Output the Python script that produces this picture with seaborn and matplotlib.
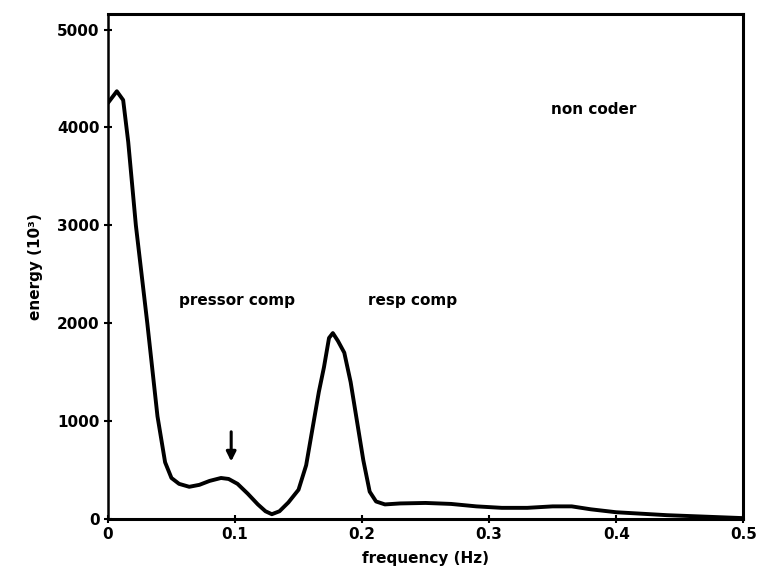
import matplotlib
matplotlib.use("Agg")
import matplotlib.pyplot as plt
import seaborn as sns
import pandas as pd

freq = [0.000, 0.007, 0.012, 0.016, 0.022, 0.031, 0.039, 0.045, 0.050, 0.056,
        0.064, 0.072, 0.080, 0.089, 0.095, 0.102, 0.110, 0.118, 0.124, 0.129,
        0.135, 0.142, 0.150, 0.156, 0.162, 0.166, 0.170, 0.174, 0.177, 0.181,
        0.186, 0.191, 0.196, 0.201, 0.206, 0.211, 0.218, 0.230, 0.250, 0.270,
        0.290, 0.310, 0.330, 0.350, 0.365, 0.380, 0.400, 0.420, 0.440, 0.460,
        0.480, 0.500]
energy = [4250, 4370, 4280, 3850, 3000, 2000, 1050, 580, 420, 360,
          330, 350, 390, 420, 410, 360, 260, 150, 80, 50,
          80, 170, 300, 550, 1000, 1300, 1550, 1850, 1900, 1820,
          1700, 1400, 1000, 600, 280, 180, 150, 160, 165, 155,
          130, 115, 115, 130, 130, 100, 70, 55, 40, 30,
          20, 10]

x_ticks = [0, 0.1, 0.2, 0.3, 0.4, 0.5]
x_tick_labels = ["0", "0.1", "0.2", "0.3", "0.4", "0.5"]
y_ticks = [0, 1000, 2000, 3000, 4000, 5000]
y_tick_labels = ["0", "1000", "2000", "3000", "4000", "5000"]

labels = ["pressor comp", "resp comp", "non coder"]
label_x = [0.056, 0.205, 0.349]
label_y = [2230, 2230, 4180]
arrow_x = 0.097
arrow_tip = 560
arrow_tail = 920

df = pd.DataFrame({"frequency": freq, "energy": energy})

sns.set_theme(style="white")
plt.rcParams["font.family"] = ["DejaVu Sans"]

fig = plt.figure(figsize=(7.6, 5.8), dpi=100)
ax = fig.add_axes([0.142, 0.105, 0.836, 0.871])
sns.lineplot(data=df, x="frequency", y="energy", ax=ax, color="black",
             linewidth=2.8)

ax.set_xlim(0, 0.5)
ax.set_ylim(0, 5160)
ax.set_xticks(x_ticks)
ax.set_xticklabels(x_tick_labels, fontsize=11, fontweight="bold")
ax.set_yticks(y_ticks)
ax.set_yticklabels(y_tick_labels, fontsize=11, fontweight="bold")
ax.tick_params(axis="both", direction="inout", length=6, width=1.5,
               colors="black", pad=3, bottom=True, left=True)
ax.set_xlabel("frequency (Hz)", fontsize=11, fontweight="bold", labelpad=6,
              color="black")
ax.set_ylabel("energy (10³)", fontsize=11, fontweight="bold", labelpad=10,
              color="black")

for s in ax.spines.values():
    s.set_color("black")
    s.set_linewidth(2.2)
ax.spines["left"].set_linewidth(1.8)

for t, lx, ly in zip(labels, label_x, label_y):
    ax.text(lx, ly, t, fontsize=11, fontweight="bold", color="black",
            va="center", ha="left")

ax.annotate("", xy=(arrow_x, arrow_tip), xytext=(arrow_x, arrow_tail),
            arrowprops=dict(arrowstyle="-|>", color="black", lw=2.2,
                            mutation_scale=14))

fig.savefig("out.png", dpi=100, facecolor="white")
